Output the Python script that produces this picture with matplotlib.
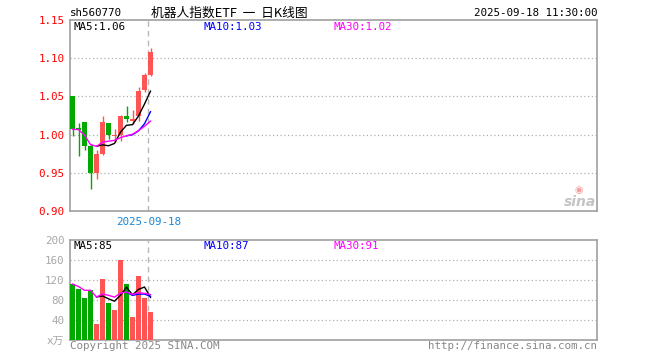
import numpy as np
import matplotlib
matplotlib.use('Agg')
import matplotlib.pyplot as plt

# ---------------- data ----------------
code = 'sh560770'
title = '机器人指数ETF  一  日K线图'
timestamp = '2025-09-18 11:30:00'
last_date = '2025-09-18'

opens  = [1.051, 1.008, 1.016, 0.985, 0.950, 0.975, 1.015, 0.998, 1.000, 1.024, 1.018, 1.025, 1.058, 1.078]
highs  = [1.051, 1.015, 1.016, 0.988, 0.980, 1.024, 1.015, 1.007, 1.026, 1.038, 1.032, 1.062, 1.080, 1.113]
lows   = [0.998, 0.972, 0.980, 0.929, 0.942, 0.973, 0.994, 0.990, 0.991, 1.017, 1.014, 1.018, 1.056, 1.077]
closes = [1.007, 1.006, 0.985, 0.950, 0.975, 1.017, 1.000, 1.000, 1.024, 1.020, 1.021, 1.057, 1.078, 1.108]

ma5_price  = [None, None, None, None, 0.9846, 0.9866, 0.9854, 0.9884, 1.0032, 1.0122, 1.0130, 1.0244, 1.0400, 1.0568]
ma10_price = [None, None, None, None, None, None, None, None, None, 0.9984, 0.9998, 1.0049, 1.0142, 1.0300]
ma30_price = [1.0070, 1.0065, 0.9993, 0.9870, 0.9846, 0.9900, 0.9914, 0.9925, 0.9960, 0.9984, 1.0005, 1.0052, 1.0108, 1.0177]

volumes  = [112, 102, 84, 100, 32, 122, 74, 60, 160, 112, 46, 128, 84, 56]
ma5_vol  = [None, None, None, None, 86.0, 88.0, 82.4, 77.6, 89.6, 105.6, 90.4, 101.2, 106.0, 85.2]
ma10_vol = [None, None, None, None, None, None, None, None, None, 95.8, 89.2, 91.8, 91.8, 87.4]
ma30_vol = [112.0, 107.0, 99.3, 99.5, 86.0, 92.0, 89.4, 85.75, 94.0, 95.8, 91.3, 94.3, 93.5, 90.9]

price_ticks = [0.90, 0.95, 1.00, 1.05, 1.10, 1.15]
price_tick_labels = ['0.90', '0.95', '1.00', '1.05', '1.10', '1.15']
vol_ticks = [0, 40, 80, 120, 160, 200]
vol_tick_labels = ['x万', '40', '80', '120', '160', '200']

ma_price_labels = ['MA5:1.06', 'MA10:1.03', 'MA30:1.02']
ma_vol_labels = ['MA5:85', 'MA10:87', 'MA30:91']

# ---------------- style ----------------
RED = '#ff5454'
GREEN = '#00a800'
FRAME = '#a0a0a0'
GRID = '#b0b0b0'
MONO = 'DejaVu Sans Mono'
plt.rcParams['font.family'] = ['DejaVu Sans Mono', 'Noto Sans CJK SC']

W, H = 660, 360
fig = plt.figure(figsize=(W / 100, H / 100), dpi=100)
fig.patch.set_facecolor('white')

def rect(l, t, r, b):
    return [l / W, 1 - b / H, (r - l) / W, (b - t) / H]

ax = fig.add_axes(rect(70, 20, 597, 211))
axv = fig.add_axes(rect(70, 240, 597, 340))

idx = np.arange(len(closes))
o = np.array(opens); c = np.array(closes); h = np.array(highs); l = np.array(lows)
up = c >= o
colors = [RED if u else GREEN for u in up]
bw = 5 / 6
xlim = (-2.5 / 6, -2.5 / 6 + 527 / 6)
marker_x = idx[-1] - 0.37

def to_arr(v):
    return np.array([np.nan if x is None else x for x in v], dtype=float)

# --- price panel ---
ax.vlines(idx, l, h, colors=colors, lw=1)
body_bottom = np.minimum(o, c)
body_h = np.maximum(np.abs(c - o), 0.0015)
ax.bar(idx, body_h, bottom=body_bottom, width=bw, color=colors, linewidth=0, zorder=3)
ax.plot(idx, to_arr(ma5_price), color='black', lw=1, zorder=4)
ax.plot(idx, to_arr(ma10_price), color='#0000ff', lw=1, zorder=4)
ax.plot(idx, to_arr(ma30_price), color='#ff00ff', lw=1, zorder=4)
ax.set_xlim(*xlim)
ax.set_ylim(price_ticks[0], price_ticks[-1])
ax.set_yticks(price_ticks)
ax.set_yticklabels(price_tick_labels, fontsize=7.8, color='#ff0000', family=MONO)
ax.set_xticks([])
ax.tick_params(axis='y', length=0, pad=4)
for t in price_ticks[1:-1]:
    ax.axhline(t, color=GRID, lw=0.9, ls=(0, (1, 2)), zorder=1)
ax.axvline(marker_x, color='#b8b8b8', lw=1, ls=(0, (4, 3)), zorder=2)
for s in ax.spines.values():
    s.set_color(FRAME); s.set_linewidth(1.2)
ax.annotate(last_date, xy=(marker_x, 0), xycoords=('data', 'axes fraction'),
            xytext=(0, -11), textcoords='offset pixels', ha='center', va='center',
            fontsize=7.8, color='#1a86d6', family=MONO)

# --- volume panel ---
axv.bar(idx, volumes, width=bw, color=colors, linewidth=0, zorder=3)
axv.plot(idx, to_arr(ma5_vol), color='black', lw=1, zorder=4)
axv.plot(idx, to_arr(ma10_vol), color='#0000ff', lw=1, zorder=4)
axv.plot(idx, to_arr(ma30_vol), color='#ff00ff', lw=1, zorder=4)
axv.set_xlim(*xlim)
axv.set_ylim(vol_ticks[0], vol_ticks[-1])
axv.set_yticks(vol_ticks)
axv.set_yticklabels(vol_tick_labels, fontsize=7.8, color='#a8a8a8')
axv.set_xticks([])
axv.tick_params(axis='y', length=0, pad=4)
for t in vol_ticks[1:-1]:
    axv.axhline(t, color=GRID, lw=0.9, ls=(0, (1, 2)), zorder=1)
axv.axvline(marker_x, color='#b8b8b8', lw=1, ls=(0, (4, 3)), zorder=2)
for s in axv.spines.values():
    s.set_color(FRAME); s.set_linewidth(1.2)

# --- texts ---
def ftext(x, y, s, **kw):
    fig.text(x / W, 1 - y / H, s, **kw)

ftext(70, 13, code, fontsize=7.8, color='black', va='center', ha='left', family=MONO)
ftext(151, 13, title, fontsize=9.2, color='black', va='center', ha='left',
      family=['Noto Sans CJK SC', 'DejaVu Sans'])
ftext(597, 13, timestamp, fontsize=7.8, color='black', va='center', ha='right', family=MONO)

ma_colors = ['black', '#0000ff', '#ff00ff']
for s, col, x in zip(ma_price_labels, ma_colors, [74, 204, 334]):
    ftext(x, 27, s, fontsize=7.8, color=col, va='center', ha='left', family=MONO)
for s, col, x in zip(ma_vol_labels, ma_colors, [74, 204, 334]):
    ftext(x, 246, s, fontsize=7.8, color=col, va='center', ha='left', family=MONO)

ftext(70, 346, 'Copyright 2025 SINA.COM', fontsize=7.8, color='#888888', va='center', ha='left', family=MONO)
ftext(597, 346, 'http://finance.sina.com.cn', fontsize=7.8, color='#888888', va='center', ha='right', family=MONO)

# watermark
ftext(596, 202, 'sina', fontsize=10, color='#c4c4c4', va='center', ha='right',
      family='DejaVu Sans', style='italic', weight='bold')
ftext(579, 190, '◉', fontsize=7, color='#f4a0a0', va='center', ha='center', family='DejaVu Sans')

fig.savefig('out.png', dpi=100, facecolor='white')
